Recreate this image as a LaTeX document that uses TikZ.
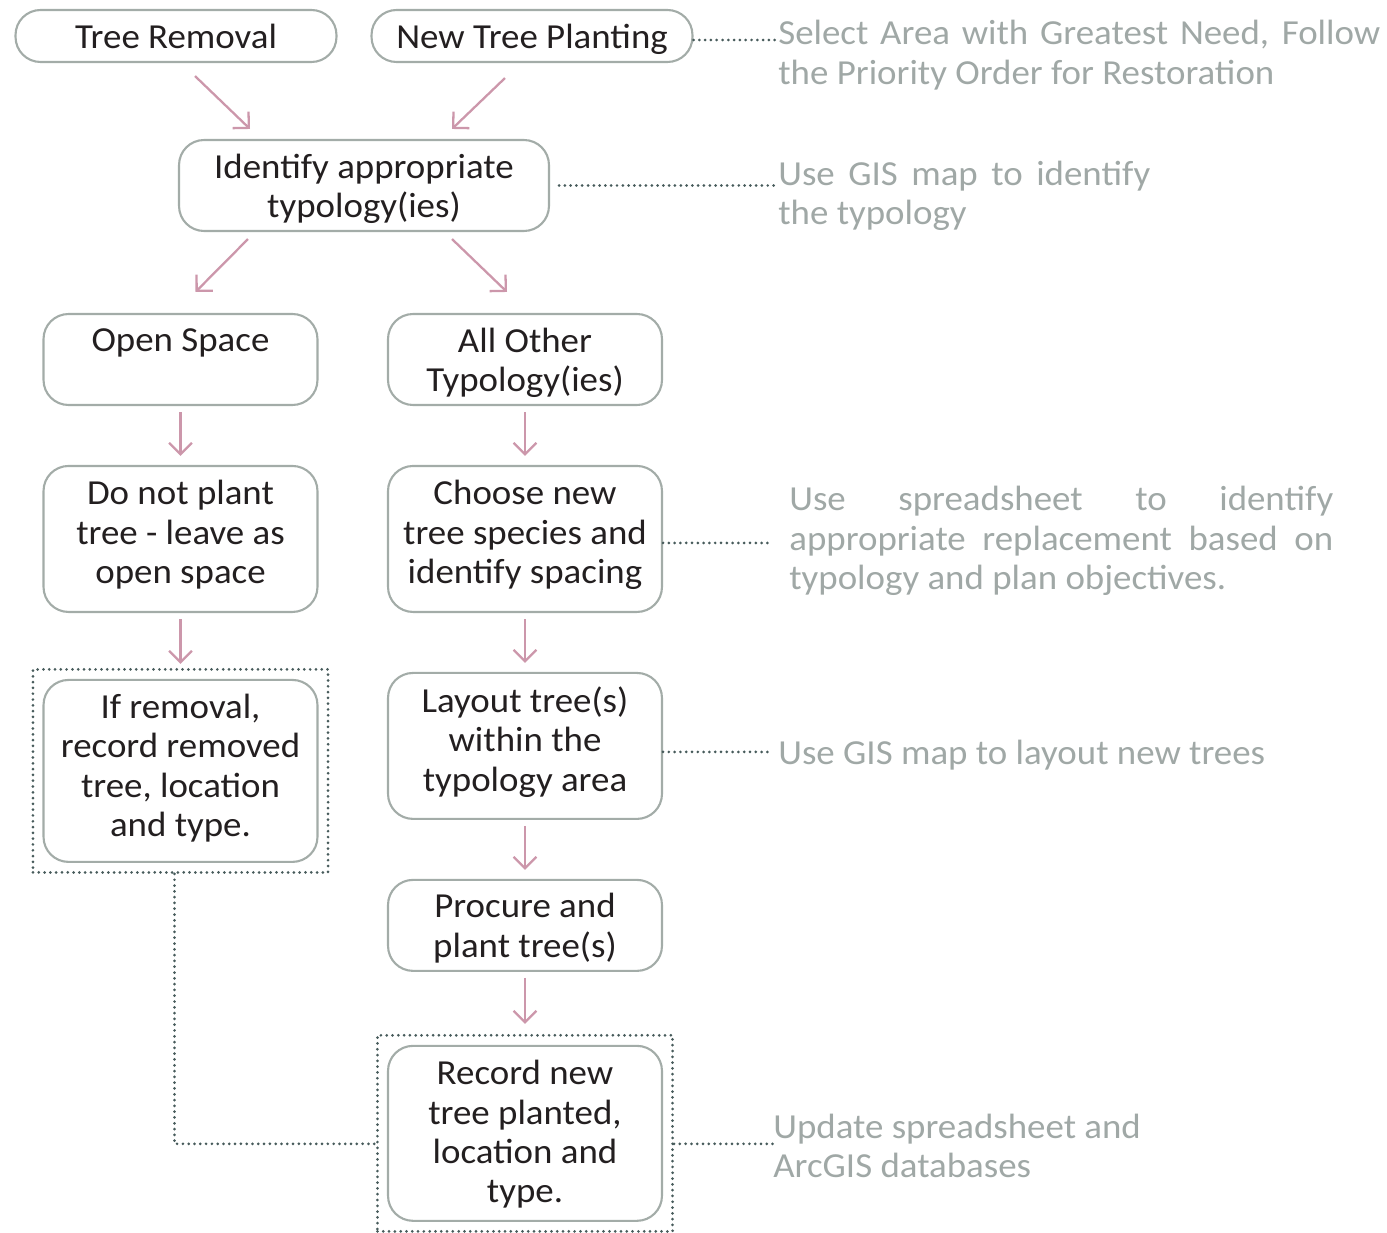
\documentclass[tikz,border=0pt]{standalone}
\usepackage{fontspec}
\setmainfont{Carlito}[FakeStretch=1.05]
\usetikzlibrary{arrows.meta,fit}

\definecolor{boxgray}{HTML}{A3ACA8}
\definecolor{arrowpink}{HTML}{CC97AB}
\definecolor{dotgray}{HTML}{475B5B}
\definecolor{notegray}{HTML}{A0A8A6}
\definecolor{inkblack}{HTML}{231F20}

\begin{document}
\begin{tikzpicture}[x=0.02cm,y=-0.02cm]
      \tikzset{
        node distance=3.59cm,
        stepbox/.style={draw=boxgray,line width=1.2pt,rounded corners=0.5cm,align=center,
          text=inkblack,font=\fontsize{20}{22.4}\selectfont,inner sep=0pt,
          minimum width=5.48cm,minimum height=1.82cm,text depth=8pt},
        shortbox/.style={stepbox,text depth=-4pt},
        topbox/.style={stepbox,minimum width=6.42cm,minimum height=1.04cm,text depth=-4pt},
        note/.style={anchor=west,align=left,inner sep=0pt,text=notegray,
          font=\fontsize{20}{22.4}\selectfont},
        flow/.style={draw=arrowpink,line width=1.3pt,shorten <=0.12cm,shorten >=0.18cm,
          -{Straight Barb[length=6.5pt,width=13pt]}},
        link/.style={draw=dotgray,line width=1.7pt,line cap=round,dash pattern=on 0pt off 3.3pt},
        surround/.style={link,inner sep=0.19cm}
      }
      \useasboundingbox (0,0) rectangle (1387,1233);

      % top row
      \node[topbox] (tr) at (176,36) {Tree Removal};
      \node[topbox] (ntp) at (532,36) {New Tree Planting};
      \node[shortbox,minimum width=7.4cm] (ident) at (364,185.5) {Identify appropriate\\typology(ies)};

      % left column
      \node[shortbox] (os) at (180.5,359.5) {Open Space\\\mbox{}};
      \node[stepbox,below of=os,minimum height=2.92cm] (dnp) {Do not plant\\tree - leave as\\open space};
      \node[stepbox,below of=dnp,node distance=4.64cm,minimum height=3.64cm,text depth=6.3pt] (rem)
        {If removal,\\record removed\\tree, location\\and type.};

      % right column
      \node[shortbox] (aot) at (525,359.5) {All Other\\Typology(ies)};
      \node[stepbox,below of=aot,minimum height=2.92cm] (cns) {Choose new\\tree species and\\identify spacing};
      \node[stepbox,below of=cns,node distance=4.14cm,minimum height=2.92cm] (lay)
        {Layout tree(s)\\within the\\typology area};
      \node[shortbox,below of=lay,text depth=-2.5pt] (pro) {Procure and\\plant tree(s)};
      \node[stepbox,below of=pro,node distance=4.16cm,minimum height=3.5cm,text depth=2pt] (rec)
        {Record new\\tree planted,\\location and\\type.};

      \node[surround,fit=(rem)] (remfit) {};
      \node[surround,fit=(rec)] (recfit) {};

      % notes
      \node[note] (sel) at (778,55)
        {\makebox[12.04cm][s]{Select Area with Greatest Need, Follow}\\the Priority Order for Restoration};
      \node[note] (gis) at (778,196)
        {\makebox[7.44cm][s]{Use GIS map to identify}\\the typology};
      \node[note] (sprd) at (789,541)
        {\makebox[10.88cm][s]{Use spreadsheet to identify}\\
         \makebox[10.88cm][s]{appropriate replacement based on}\\typology and plan objectives.};
      \node[note] (lyt) at (778,755) {Use GIS map to layout new trees};
      \node[note] (upd) at (773,1146) {Update spreadsheet and\\ArcGIS databases};

      % arrows
      \path ([shift={(19,13)}]tr.south) edge[flow,shorten <=0pt,shorten >=0pt] ([shift={(-114,-10)}]ident.north)
            ([shift={(-27,15)}]ntp.south) edge[flow,shorten <=0pt,shorten >=0pt] ([shift={(88,-10)}]ident.north)
            ([shift={(-116,7)}]ident.south) edge[flow,shorten <=0pt,shorten >=0pt] ([shift={(15,-21)}]os.north)
            ([shift={(88,7)}]ident.south) edge[flow,shorten <=0pt,shorten >=0pt] ([shift={(-18,-21)}]aot.north);
      \path (os) edge[flow] (dnp)
            (dnp) edge[flow,shorten >=0.3cm] (rem)
            (aot) edge[flow] (cns)
            (cns) edge[flow] (lay)
            (lay) edge[flow] (pro)
            (pro) edge[flow,shorten >=0.42cm] (rec);

      % dotted links
      \draw[link] ([yshift=-0.08cm]ntp.east) -- ([yshift=-0.08cm]ntp.east -| sel.west);
      \draw[link,shorten <=0.18cm] (ident.east) -- (ident.east -| gis.west);
      \draw[link,shorten >=0.32cm] ([yshift=-0.08cm]cns.east) -- ([yshift=-0.08cm]cns.east -| sprd.west);
      \draw[link,shorten >=0.12cm] ([yshift=-0.12cm]lay.east) -- ([yshift=-0.12cm]lay.east -| lyt.west);
      \draw[link] ([yshift=-0.21cm]recfit.east) -- ([yshift=-0.21cm]recfit.east -| upd.west);
      \draw[link] ([xshift=-0.12cm]remfit.south) |- ([yshift=-0.21cm]recfit.west);
    \end{tikzpicture}
\end{document}
